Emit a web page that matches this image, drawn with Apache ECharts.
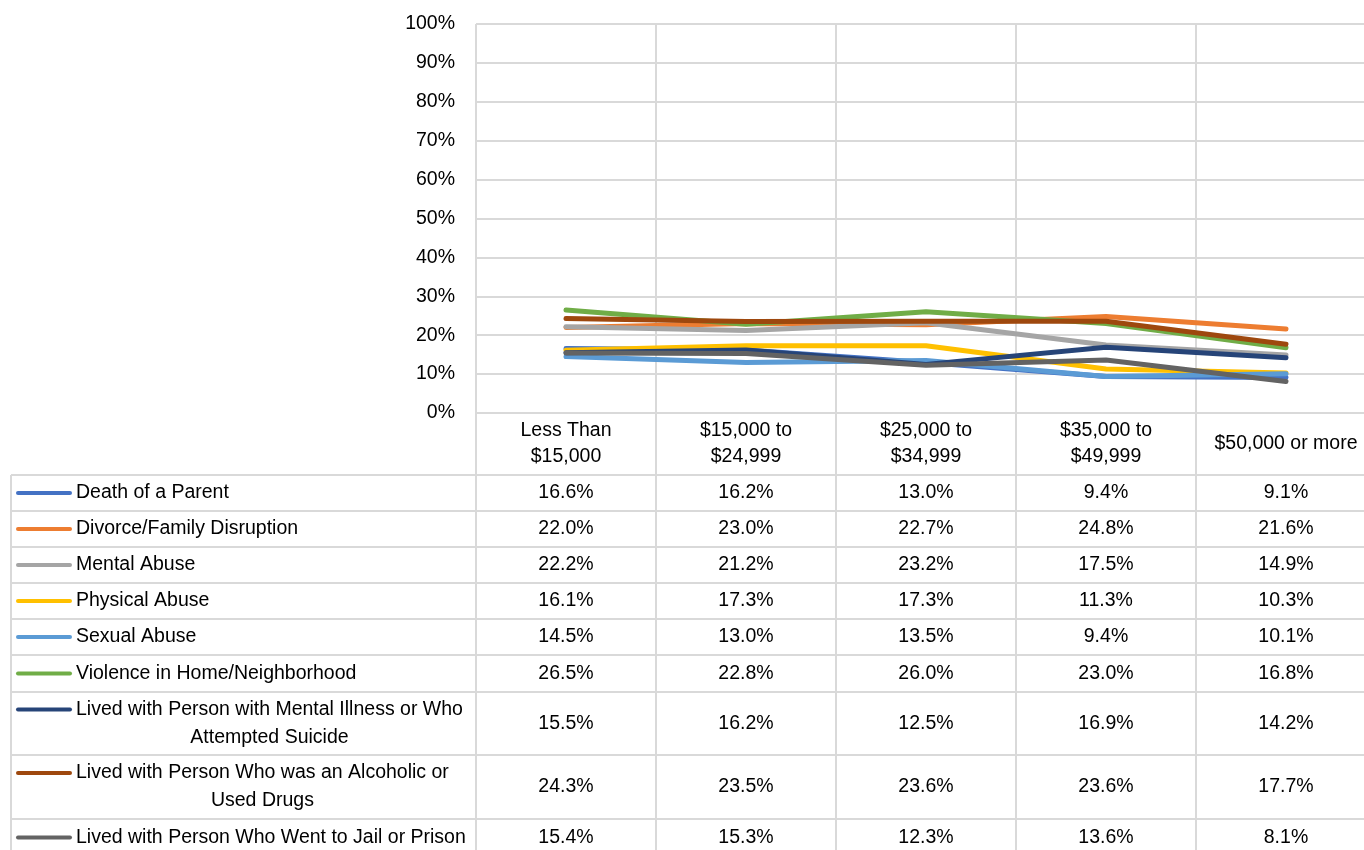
<!DOCTYPE html>
<html>
<head>
<meta charset="utf-8">
<script src="https://cdn.jsdelivr.net/npm/echarts@6/dist/echarts.min.js"></script>
<style>
html, body { margin: 0; padding: 0; background: #fff; }
#chart { width: 1364px; height: 850px; }
</style>
</head>
<body>
<div id="chart"></div>
<script>
/************************    数据    ****************************/
var categories = ['Less Than\n$15,000', '$15,000 to\n$24,999', '$25,000 to\n$34,999', '$35,000 to\n$49,999', '$50,000 or more'];
var yTicks = [0, 10, 20, 30, 40, 50, 60, 70, 80, 90, 100];

var seriesNames = [
    'Death of a Parent',
    'Divorce/Family Disruption',
    'Mental Abuse',
    'Physical Abuse',
    'Sexual Abuse',
    'Violence in Home/Neighborhood',
    'Lived with Person with Mental Illness or Who\nAttempted Suicide',
    'Lived with Person Who was an Alcoholic or\nUsed Drugs',
    'Lived with Person Who Went to Jail or Prison'
];

var deathParent   = [16.6, 16.2, 13.0, 9.4, 9.1];
var divorce       = [22.0, 23.0, 22.7, 24.8, 21.6];
var mentalAbuse   = [22.2, 21.2, 23.2, 17.5, 14.9];
var physicalAbuse = [16.1, 17.3, 17.3, 11.3, 10.3];
var sexualAbuse   = [14.5, 13.0, 13.5, 9.4, 10.1];
var violence      = [26.5, 22.8, 26.0, 23.0, 16.8];
var livedMental   = [15.5, 16.2, 12.5, 16.9, 14.2];
var livedAlcohol  = [24.3, 23.5, 23.6, 23.6, 17.7];
var livedJail     = [15.4, 15.3, 12.3, 13.6, 8.1];

var seriesValues = [deathParent, divorce, mentalAbuse, physicalAbuse, sexualAbuse, violence, livedMental, livedAlcohol, livedJail];

/************************    样式    ****************************/
var colors = ['#4472C4', '#ED7D31', '#A5A5A5', '#FFC000', '#5B9BD5', '#70AD47', '#264478', '#9E480E', '#636363'];
var FONT = 'Liberation Sans';
var FONT_SIZE = 19.5;
var GRID_COLOR = '#d9d9d9';
var TEXT_COLOR = '#000';

// 表格行的上边界（像素）
var rowTops = [475, 511, 547, 583, 619, 655, 692, 755, 819, 856];
var TABLE_LEFT = 11;

var chart = echarts.init(document.getElementById('chart'));

var series = seriesNames.map(function (name, i) {
    return {
        name: name,
        type: 'line',
        xAxisIndex: 0,
        yAxisIndex: 0,
        data: seriesValues[i],
        showSymbol: false,
        symbol: 'none',
        silent: true,
        lineStyle: { color: colors[i], width: 5, cap: 'round', join: 'round' },
        itemStyle: { color: colors[i] }
    };
});

chart.setOption({
    backgroundColor: '#fff',
    animation: false,
    textStyle: { fontFamily: FONT },
    grid: [
        { left: 476, width: 900, top: 24, height: 389, outerBoundsMode: 'none', containLabel: false },
        { left: 476, width: 900, top: 413, height: 460, outerBoundsMode: 'none', containLabel: false }
    ],
    xAxis: [
        {
            type: 'category',
            gridIndex: 0,
            data: categories,
            boundaryGap: true,
            axisLine: { show: false },
            axisTick: { show: false },
            splitLine: { show: true, lineStyle: { color: GRID_COLOR, width: 2 } },
            axisLabel: {
                margin: 31,
                verticalAlign: 'middle',
                lineHeight: 26,
                color: TEXT_COLOR,
                fontFamily: FONT,
                fontSize: FONT_SIZE,
                interval: 0
            }
        },
        {
            type: 'category',
            gridIndex: 1,
            data: categories,
            boundaryGap: true,
            axisLine: { show: false },
            axisTick: { show: false },
            axisLabel: { show: false },
            splitLine: { show: true, lineStyle: { color: GRID_COLOR, width: 2 } }
        }
    ],
    yAxis: [
        {
            type: 'value',
            gridIndex: 0,
            min: yTicks[0],
            max: yTicks[yTicks.length - 1],
            interval: 10,
            axisLine: { show: false },
            axisTick: { show: false },
            splitLine: { show: true, lineStyle: { color: GRID_COLOR, width: 2 } },
            axisLabel: {
                margin: 21,
                formatter: '{value}%',
                color: TEXT_COLOR,
                fontFamily: FONT,
                fontSize: FONT_SIZE
            }
        },
        {
            type: 'value',
            gridIndex: 1,
            show: false,
            min: 0,
            max: 1
        }
    ],
    series: series
});

/************************    数据表    ****************************/
var ctx = document.createElement('canvas').getContext('2d');
ctx.font = FONT_SIZE + 'px "' + FONT + '"';

function buildTable() {
    var xs = categories.map(function (c, i) {
        return chart.convertToPixel({ xAxisIndex: 0 }, i);
    });
    var elements = [];
    var width = chart.getWidth();

    // 横线
    rowTops.forEach(function (y) {
        elements.push({
            type: 'line',
            silent: true,
            shape: { x1: TABLE_LEFT, y1: y, x2: width, y2: y },
            style: { stroke: GRID_COLOR, lineWidth: 2 }
        });
    });
    // 左边框
    elements.push({
        type: 'line',
        silent: true,
        shape: { x1: TABLE_LEFT, y1: rowTops[0], x2: TABLE_LEFT, y2: rowTops[rowTops.length - 1] },
        style: { stroke: GRID_COLOR, lineWidth: 2 }
    });

    seriesNames.forEach(function (name, i) {
        var top = rowTops[i], bottom = rowTops[i + 1];
        var mid = (top + bottom) / 2;
        var lines = name.split('\n');
        var keyY = lines.length > 1 ? mid - 14 : mid;

        // 图例线
        elements.push({
            type: 'line',
            silent: true,
            shape: { x1: 18, y1: keyY, x2: 70, y2: keyY },
            style: { stroke: colors[i], lineWidth: 4, lineCap: 'round' }
        });

        // 名称
        var w = ctx.measureText(lines[0]).width;
        elements.push({
            type: 'text',
            silent: true,
            x: lines.length > 1 ? 76 + w / 2 : 76,
            y: mid,
            style: {
                text: name,
                fill: TEXT_COLOR,
                font: FONT_SIZE + 'px "' + FONT + '"',
                align: lines.length > 1 ? 'center' : 'left',
                verticalAlign: 'middle',
                lineHeight: 28
            }
        });

        // 数值
        seriesValues[i].forEach(function (v, j) {
            elements.push({
                type: 'text',
                silent: true,
                x: xs[j],
                y: mid,
                style: {
                    text: v.toFixed(1) + '%',
                    fill: TEXT_COLOR,
                    font: FONT_SIZE + 'px "' + FONT + '"',
                    align: 'center',
                    verticalAlign: 'middle'
                }
            });
        });
    });

    chart.setOption({ graphic: { elements: elements } });
}

buildTable();
</script>
</body>
</html>
